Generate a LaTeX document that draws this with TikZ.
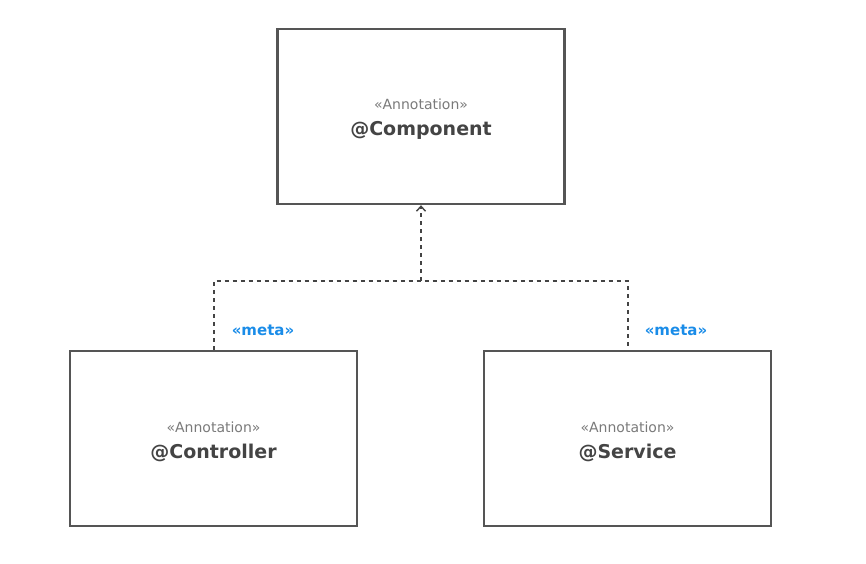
\documentclass[tikz,border=0pt]{standalone}
\usepackage{fontspec}
\setmainfont{DejaVu Sans}
\usepackage{xcolor}
\usetikzlibrary{arrows.meta}

\definecolor{boxgray}{HTML}{555555}
\definecolor{textgray}{HTML}{444444}
\definecolor{stereogray}{HTML}{7A7A7A}
\definecolor{metablue}{HTML}{1A8CE8}

\tikzset{
  annobox/.style={draw=boxgray, line width=2.4pt, minimum width=287pt, minimum height=175pt, inner sep=0pt},
  annotext/.style={align=center, yshift=-3pt, font=\fontsize{19}{26}\selectfont},
  metalink/.style={draw=textgray, line width=2pt, dash pattern=on 4pt off 4pt},
  metatag/.style={text=metablue, font=\fontsize{15}{17}\selectfont\bfseries}
}

\newcommand{\annolabel}[1]{{\color{stereogray}\fontsize{14}{16}\selectfont «Annotation»}\\{\color{textgray}\bfseries #1}}

\begin{document}
\begin{tikzpicture}[x=1pt, y=-1pt]

    % Page size
    \useasboundingbox (0,0) rectangle (866,563);

    % The three annotation boxes
    \node[annobox, label={[annotext]center:\annolabel{@Component}}] (comp) at (421,116.5) {};
    \node[annobox, label={[annotext]center:\annolabel{@Controller}}] (ctrl) at (213.5,438.5) {};
    \node[annobox, label={[annotext]center:\annolabel{@Service}}] (svc) at (627.5,438.5) {};

    % Where the dashed lines meet
    \coordinate (join) at (421,281);

    % Meta-annotation links
    \draw[metalink] (ctrl.north) |- (join) -| (svc.north);
    \draw[metalink, -{Straight Barb[length=5pt, width=9pt, line width=1.4pt]}] (join) -- (comp.south);

    % Tags next to the links
    \node[metatag] (metaL) at (263,330) {«meta»};
    \node[metatag] (metaR) at (676,330) {«meta»};

\end{tikzpicture}
\end{document}
